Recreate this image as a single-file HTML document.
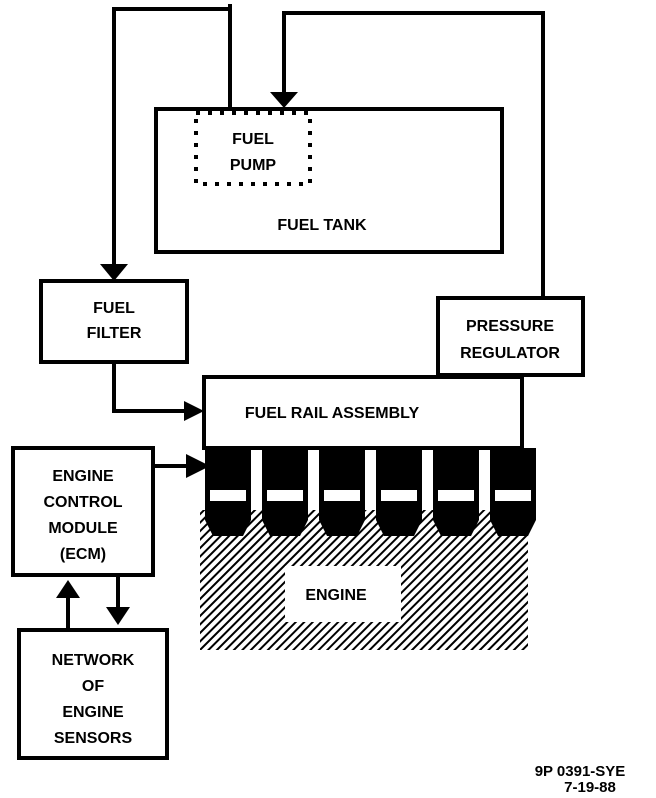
<!DOCTYPE html>
<html><head><style>
html,body{margin:0;padding:0;background:#fff;}
svg{display:block;}
text{font-family:"Liberation Sans",sans-serif;font-weight:bold;font-size:16px;fill:#000;text-anchor:middle;}
</style></head><body>
<svg width="656" height="798" viewBox="0 0 656 798" xmlns="http://www.w3.org/2000/svg">
<defs>
<pattern id="h" width="6" height="6" patternUnits="userSpaceOnUse" patternTransform="rotate(45)">
<rect width="6" height="6" fill="#fff"/><rect x="0" y="0" width="2" height="6" fill="#000"/>
</pattern>
</defs>
<g fill="none" stroke="#000" stroke-width="4">
<polyline points="230,4 230,108"/>
<polyline points="230,9 114,9 114,266"/>
<polyline points="284,94 284,13 543,13 543,298"/>
<rect x="156" y="109" width="346" height="143"/>
<rect x="41" y="281" width="146" height="81"/>
<rect x="438" y="298" width="145" height="77"/>
<rect x="204" y="377" width="318" height="71"/>
<polyline points="114,362 114,411 186,411"/>
<rect x="13" y="448" width="140" height="127"/>
<line x1="153" y1="466" x2="190" y2="466"/>
<rect x="19" y="630" width="148" height="128"/>
<line x1="68" y1="630" x2="68" y2="595"/>
<line x1="118" y1="575" x2="118" y2="610"/>
</g>
<rect x="196" y="113" width="114" height="71" fill="none" stroke="#000" stroke-width="4" stroke-dasharray="4,8"/>
<g fill="#000">
<polygon points="270,92 298,92 284,108"/>
<polygon points="100,264 128,264 114,281"/>
<polygon points="184,401 184,421 204,411"/>
<polygon points="186,454 186,478 210,466"/>
<polygon points="56,598 80,598 68,580"/>
<polygon points="106,607 130,607 118,625"/>
</g>
<rect x="200" y="510" width="328" height="140" fill="url(#h)"/>
<rect x="285" y="566" width="116" height="56" fill="#fff"/>
<g fill="#000">
<g id="inj">
<rect x="205" y="448" width="46" height="72"/>
<rect x="210" y="490" width="36" height="11" fill="#fff"/>
<polygon points="205,520 251,520 243,536 213,536"/>
</g>
<use href="#inj" x="57"/>
<use href="#inj" x="114"/>
<use href="#inj" x="171"/>
<use href="#inj" x="228"/>
<use href="#inj" x="285"/>
</g>
<text x="253" y="144">FUEL</text>
<text x="253" y="170">PUMP</text>
<text x="322" y="230">FUEL TANK</text>
<text x="114" y="313">FUEL</text>
<text x="114" y="338">FILTER</text>
<text x="510" y="331">PRESSURE</text>
<text x="510" y="358">REGULATOR</text>
<text x="332" y="418">FUEL RAIL ASSEMBLY</text>
<text x="83" y="481">ENGINE</text>
<text x="83" y="507">CONTROL</text>
<text x="83" y="533">MODULE</text>
<text x="83" y="559">(ECM)</text>
<text x="336" y="600">ENGINE</text>
<text x="93" y="665">NETWORK</text>
<text x="93" y="691">OF</text>
<text x="93" y="717">ENGINE</text>
<text x="93" y="743">SENSORS</text>
<text x="580" y="776" style="font-size:15px">9P 0391-SYE</text>
<text x="590" y="792" style="font-size:15px">7-19-88</text>
</svg>
</body></html>
